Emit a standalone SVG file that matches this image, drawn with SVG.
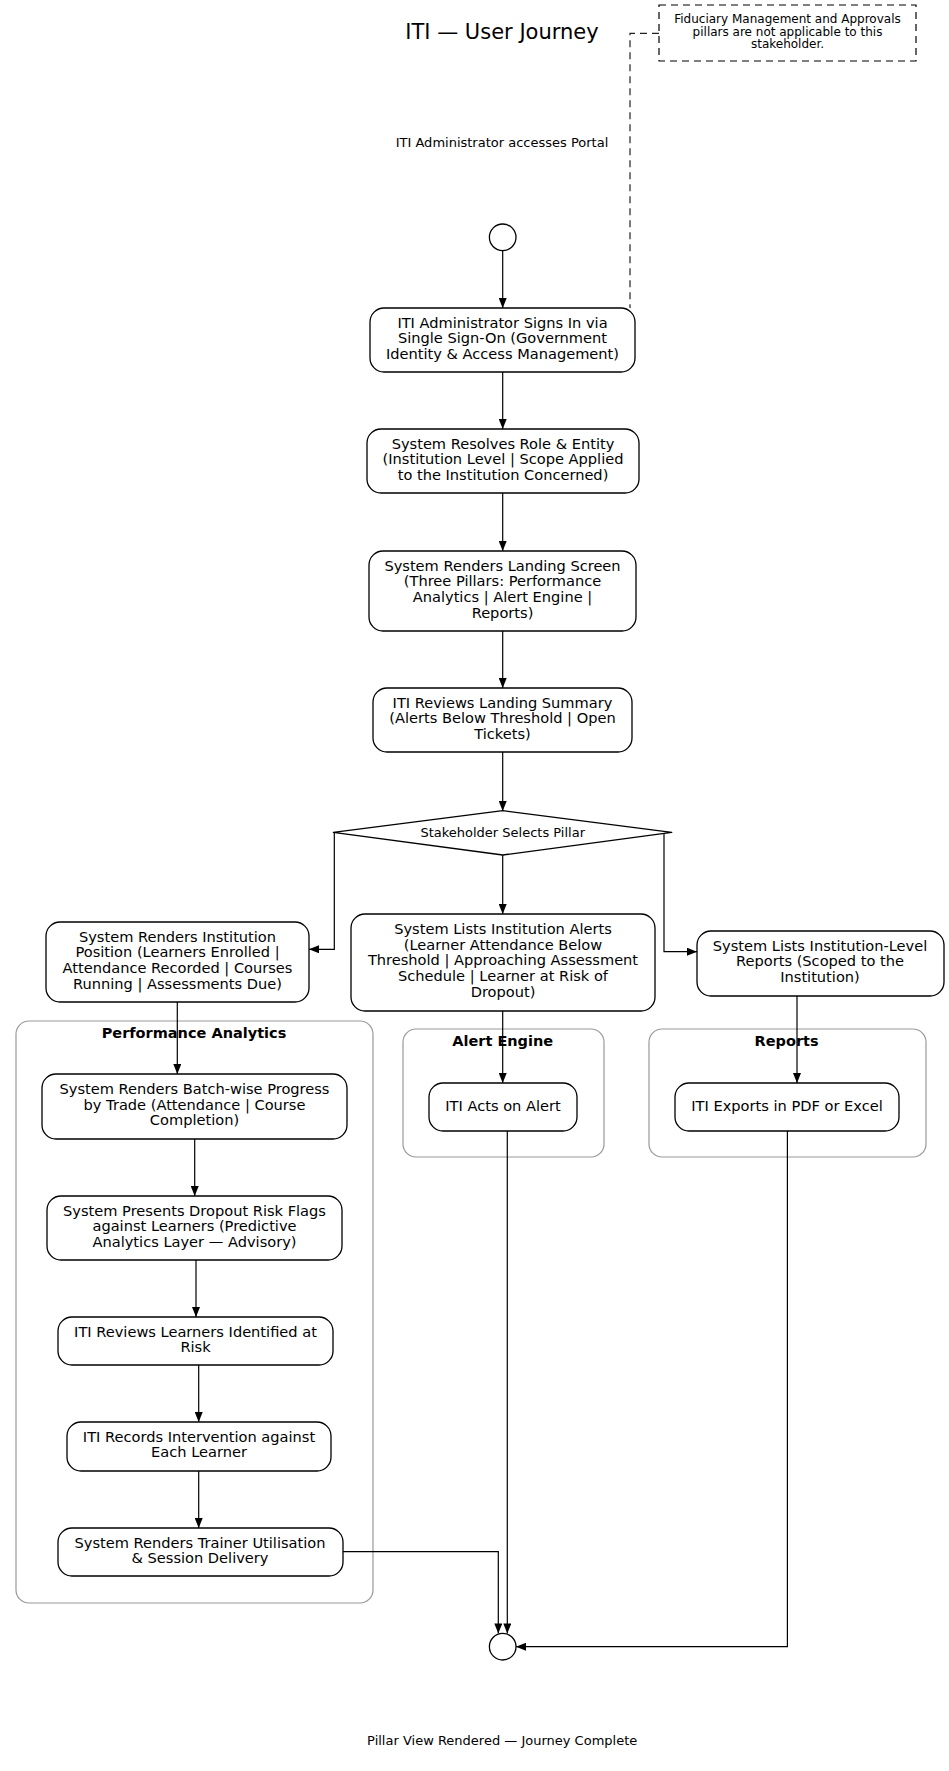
<svg xmlns="http://www.w3.org/2000/svg" width="949" height="1771" viewBox="0 0 949 1771">
<defs>
<marker id="ah" viewBox="0 0 10 8" refX="10" refY="4" markerWidth="10" markerHeight="8" markerUnits="userSpaceOnUse" orient="auto">
<path d="M0,0 L10,4 L0,8 Z" fill="#000"/>
</marker>
<style>
text{font-family:"DejaVu Sans","Liberation Sans",sans-serif;fill:#000;text-anchor:middle}
.n{font-size:14.6px}
.s{font-size:13px}
.note{font-size:12px}
.title{font-size:21px}
.cl{font-size:14.5px;font-weight:bold}
.box{fill:#fff;stroke:#000;stroke-width:1.3}
.clu{fill:none;stroke:#999;stroke-width:1.2}
.e{fill:none;stroke:#000;stroke-width:1.2;marker-end:url(#ah)}
.d{fill:none;stroke:#222;stroke-width:1.2;stroke-dasharray:7,5}
</style>
</defs>
<rect width="949" height="1771" fill="#fff"/>

<text class="title" x="502" y="39">ITI — User Journey</text>

<g id="note">
<rect x="659" y="5" width="257" height="56" fill="#fff" stroke="#000" stroke-width="1.2" stroke-dasharray="7,5"/>
<text class="note" x="787.5" y="22.7">Fiduciary Management and Approvals</text>
<text class="note" x="787.5" y="35.5">pillars are not applicable to this</text>
<text class="note" x="787.5" y="48.3">stakeholder.</text>
</g>

<text class="s" x="502" y="146.7">ITI Administrator accesses Portal</text>

<g id="clusters">
<g id="cluster-pa"><rect class="clu" x="16" y="1021" width="357" height="582" rx="13"/><text class="cl" x="194" y="1037.7">Performance Analytics</text></g>
<g id="cluster-ae"><rect class="clu" x="403" y="1029" width="201" height="128" rx="13"/><text class="cl" x="502.7" y="1046">Alert Engine</text></g>
<g id="cluster-rp"><rect class="clu" x="649" y="1029" width="277" height="128" rx="13"/><text class="cl" x="786.6" y="1046">Reports</text></g>
</g>

<g id="connectors">
<path class="d" d="M659,33.3 H630 V308"/>
<path class="e" d="M502.7,250.6 V308"/>
<path class="e" d="M502.7,372 V429"/>
<path class="e" d="M502.7,493 V551"/>
<path class="e" d="M502.7,631 V688"/>
<path class="e" d="M502.7,752 V811"/>
<path class="e" d="M334.3,833 V949.3 H309"/>
<path class="e" d="M502.7,855 V914"/>
<path class="e" d="M664,832 V951.7 H697"/>
<path class="e" d="M177.3,1002 V1074"/>
<path class="e" d="M194.7,1139 V1196"/>
<path class="e" d="M196,1260 V1317"/>
<path class="e" d="M198.7,1365 V1422"/>
<path class="e" d="M198.7,1470.7 V1528"/>
<path class="e" d="M342.3,1551.7 H498.3 V1633.4"/>
<path class="e" d="M502.7,1010.7 V1083"/>
<path class="e" d="M507.3,1131 V1633.4"/>
<path class="e" d="M797,995.7 V1083"/>
<path class="e" d="M787.4,1131 V1646.7 H516"/>
</g>

<g id="start"><circle cx="502.7" cy="237.3" r="13.3" fill="#fff" stroke="#000" stroke-width="1.3"/></g>

<g id="n1"><rect class="box" x="370" y="308" width="265" height="64" rx="14"/>
<text class="n" x="502.5" y="327.5">ITI Administrator Signs In via</text>
<text class="n" x="502.5" y="343.2">Single Sign-On (Government</text>
<text class="n" x="502.5" y="358.9">Identity &amp; Access Management)</text></g>

<g id="n2"><rect class="box" x="367" y="429" width="272" height="64" rx="14"/>
<text class="n" x="503" y="448.5">System Resolves Role &amp; Entity</text>
<text class="n" x="503" y="464.2">(Institution Level | Scope Applied</text>
<text class="n" x="503" y="479.9">to the Institution Concerned)</text></g>

<g id="n3"><rect class="box" x="369" y="551" width="267" height="80" rx="14"/>
<text class="n" x="502.5" y="570.5">System Renders Landing Screen</text>
<text class="n" x="502.5" y="586.2">(Three Pillars: Performance</text>
<text class="n" x="502.5" y="601.9">Analytics | Alert Engine |</text>
<text class="n" x="502.5" y="617.6">Reports)</text></g>

<g id="n4"><rect class="box" x="373" y="688" width="259" height="64" rx="14"/>
<text class="n" x="502.5" y="707.5">ITI Reviews Landing Summary</text>
<text class="n" x="502.5" y="723.2">(Alerts Below Threshold | Open</text>
<text class="n" x="502.5" y="738.9">Tickets)</text></g>

<g id="decision"><path d="M333.3,832.3 L502.7,810.7 L671.7,832.3 L502.7,855 Z" fill="#fff" stroke="#000" stroke-width="1.3" stroke-linejoin="round"/>
<text class="s" x="502.7" y="836.7">Stakeholder Selects Pillar</text></g>

<g id="n5"><rect class="box" x="46" y="922" width="263" height="80" rx="14"/>
<text class="n" x="177.5" y="941.5">System Renders Institution</text>
<text class="n" x="177.5" y="957.2">Position (Learners Enrolled |</text>
<text class="n" x="177.5" y="972.9">Attendance Recorded | Courses</text>
<text class="n" x="177.5" y="988.6">Running | Assessments Due)</text></g>

<g id="n6"><rect class="box" x="351" y="914" width="304" height="97" rx="14"/>
<text class="n" x="503" y="933.8">System Lists Institution Alerts</text>
<text class="n" x="503" y="949.5">(Learner Attendance Below</text>
<text class="n" x="503" y="965.2">Threshold | Approaching Assessment</text>
<text class="n" x="503" y="980.9">Schedule | Learner at Risk of</text>
<text class="n" x="503" y="996.6">Dropout)</text></g>

<g id="n7"><rect class="box" x="697" y="931" width="247" height="65" rx="14"/>
<text class="n" x="820" y="950.5">System Lists Institution-Level</text>
<text class="n" x="820" y="966.2">Reports (Scoped to the</text>
<text class="n" x="820" y="981.9">Institution)</text></g>

<g id="n8"><rect class="box" x="42" y="1074" width="305" height="65" rx="14"/>
<text class="n" x="194.5" y="1093.8">System Renders Batch-wise Progress</text>
<text class="n" x="194.5" y="1109.5">by Trade (Attendance | Course</text>
<text class="n" x="194.5" y="1125.2">Completion)</text></g>

<g id="n9"><rect class="box" x="47" y="1196" width="295" height="64" rx="14"/>
<text class="n" x="194.5" y="1215.5">System Presents Dropout Risk Flags</text>
<text class="n" x="194.5" y="1231.2">against Learners (Predictive</text>
<text class="n" x="194.5" y="1246.9">Analytics Layer — Advisory)</text></g>

<g id="n10"><rect class="box" x="58" y="1317" width="275" height="48" rx="14"/>
<text class="n" x="195.5" y="1336.5">ITI Reviews Learners Identified at</text>
<text class="n" x="195.5" y="1352.2">Risk</text></g>

<g id="n11"><rect class="box" x="67" y="1422" width="264" height="49" rx="14"/>
<text class="n" x="199" y="1441.5">ITI Records Intervention against</text>
<text class="n" x="199" y="1457.2">Each Learner</text></g>

<g id="n12"><rect class="box" x="58" y="1528" width="285" height="48" rx="14"/>
<text class="n" x="200" y="1547.5">System Renders Trainer Utilisation</text>
<text class="n" x="200" y="1563.2">&amp; Session Delivery</text></g>

<g id="n13"><rect class="box" x="429" y="1083" width="148" height="48" rx="14"/>
<text class="n" x="503" y="1110.7">ITI Acts on Alert</text></g>

<g id="n14"><rect class="box" x="675" y="1083" width="224" height="48" rx="14"/>
<text class="n" x="787" y="1110.7">ITI Exports in PDF or Excel</text></g>

<g id="end"><circle cx="502.7" cy="1646.7" r="13.3" fill="#fff" stroke="#000" stroke-width="1.3"/></g>

<text class="s" x="502.2" y="1745">Pillar View Rendered — Journey Complete</text>
</svg>
